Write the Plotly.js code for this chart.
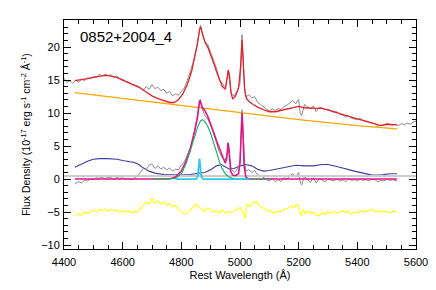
<!DOCTYPE html>
<html lang="en">
<head>
    <meta charset="UTF-8">
    <title>0852+2004_4 spectral fit</title>
    <script src='https://cdn.plot.ly/plotly-3.0.0.min.js'></script>
    <style>
        body { margin: 0; background: #fff; }
        #plot { width: 436px; height: 290px; }
    </style>
</head>
<body>
    <div id="plot"></div>

    <script>
        // observed spectrum (top grey)
        const dataWave = [4400,4410,4420,4430,4440,4450,4460,4470,4480,4490,4500,4510,4520,4530,4540,4550,4560,4570,4580,4590,
            4600,4610,4620,4630,4640,4650,4660,4670,4680,4690,4700,4710,4720,4730,4740,4750,4760,4770,4780,4790,
            4800,4810,4820,4830,4840,4850,4860,4865,4870,4880,4890,4900,4910,4920,4930,4940,4950,4960,4970,4980,
            4990,5000,5007,5015,5020,5030,5040,5050,5060,5070,5080,5090,5100,5110,5120,5130,5140,5150,5160,5170,
            5180,5190,5200,5205,5210,5220,5230,5240,5250,5260,5270,5280,5290,5300,5310,5320,5330,5340,5350,5360,
            5370,5380,5390,5400,5410,5420,5430,5440,5450,5460,5470,5480,5490,5500,5510,5520,5530,5540,5550,5560,
            5570,5580,5590,5600];
        const dataFlux = [15.3,14.6,14.9,14.5,15.0,14.7,15.1,14.9,15.3,15.2,15.5,15.4,15.9,15.6,15.9,15.7,15.8,15.4,15.6,15.2,
            15.1,14.8,14.7,14.4,14.3,14.1,13.9,13.4,14.0,13.6,14.3,13.7,13.9,13.4,13.6,13.0,13.3,12.6,12.9,12.7,
            13.3,13.8,14.9,16.2,17.6,19.5,22.0,23.3,22.4,20.9,20.4,19.1,17.9,16.8,15.0,14.3,13.8,16.3,13.0,12.6,
            13.3,14.5,21.9,14.0,12.4,12.8,12.3,12.5,11.6,11.3,10.9,10.6,10.3,10.6,10.4,10.7,10.5,11.0,11.2,11.6,
            11.9,11.4,12.1,10.0,9.6,11.3,11.0,10.6,11.1,10.2,10.9,10.8,10.5,10.6,10.3,10.1,10.2,9.8,9.7,9.4,
            9.6,9.2,9.1,9.0,9.2,8.8,8.7,8.6,8.5,8.4,8.0,8.2,8.1,8.4,8.3,8.2,8.3,8.1,8.4,8.2,
            8.5,8.3,8.6,8.8];

        // total model (red)
        const modelWave = [4437,4460,4480,4500,4520,4540,4560,4580,4600,4620,4640,4660,4680,4700,4720,4740,4760,4775,4790,4805,
            4820,4835,4845,4855,4862,4866,4872,4880,4890,4900,4910,4920,4930,4940,4950,4956,4960,4964,4969,4975,
            4985,4995,5002,5007,5011,5016,5022,5030,5045,5060,5080,5100,5120,5140,5160,5180,5200,5220,5240,5260,
            5280,5300,5320,5340,5360,5380,5400,5420,5440,5460,5480,5500,5520,5535];
        const modelFlux = [14.9,15.0,15.2,15.4,15.6,15.7,15.6,15.4,15.0,14.6,14.3,13.8,13.2,12.6,12.2,11.9,11.6,11.6,12.0,12.9,
            14.3,16.3,18.2,20.5,22.6,23.1,22.0,20.8,20.0,18.9,17.6,16.3,15.1,14.0,13.6,15.0,16.5,15.8,13.2,12.1,
            12.6,13.8,17.0,21.1,17.8,13.5,12.2,11.8,11.3,10.9,10.5,10.2,10.2,10.4,10.7,10.9,11.0,10.8,10.7,10.7,
            10.7,10.5,10.2,9.9,9.6,9.3,9.1,8.9,8.6,8.3,8.1,8.3,8.3,8.2];

        // power-law continuum (orange)
        const contWave = [4437,4600,4800,5000,5200,5400,5535];
        const contFlux = [13.1,12.2,11.1,10.0,9.0,8.1,7.6];

        // Fe II template (blue)
        const feWave = [4437,4460,4480,4500,4520,4550,4580,4600,4620,4640,4655,4670,4690,4710,4740,4770,4800,4830,4850,4880,
            4900,4920,4935,4950,4965,4980,5000,5020,5040,5060,5080,5100,5130,5160,5190,5220,5250,5280,5300,5330,
            5360,5390,5420,5450,5480,5510,5535];
        const feFlux = [1.8,2.3,2.7,3.0,3.1,3.1,3.0,2.8,2.6,2.5,2.2,1.7,1.2,0.9,0.7,0.6,0.6,0.7,0.8,1.0,
            1.4,2.0,2.2,1.8,1.5,1.6,2.0,2.2,2.0,1.5,1.2,1.3,1.6,1.9,2.1,2.0,2.0,2.2,2.2,1.9,
            1.5,1.2,0.9,0.6,0.6,0.8,0.8];

        // continuum-subtracted spectrum (lower grey)
        const lineWave = [4437,4450,4460,4470,4480,4490,4500,4510,4520,4530,4540,4550,4560,4570,4580,4590,4600,4610,4620,4630,
            4640,4650,4660,4670,4680,4690,4700,4710,4720,4730,4740,4750,4760,4770,4780,4790,4800,4810,4820,4830,
            4840,4850,4860,4865,4870,4880,4890,4900,4910,4920,4930,4940,4950,4960,4970,4980,4990,5000,5007,5015,
            5020,5030,5040,5050,5060,5070,5080,5090,5100,5110,5120,5130,5140,5150,5160,5170,5180,5190,5200,5205,
            5210,5220,5230,5240,5250,5260,5270,5280,5290,5300,5310,5320,5330,5340,5350,5360,5370,5380,5390,5400,
            5410,5420,5430,5440,5450,5460,5470,5480,5490,5500,5510,5520,5535];
        const lineFlux = [-0.7,-0.4,-0.6,-0.2,-0.3,0.0,-0.1,0.2,0.1,0.3,0.0,0.3,0.2,0.0,0.3,0.1,0.2,0.0,0.1,-0.1,
            0.2,0.4,1.0,1.6,1.4,2.1,2.3,1.6,2.0,1.5,1.8,1.4,1.7,1.2,1.5,1.4,2.1,2.6,3.6,4.6,
            6.1,8.3,10.6,12.1,10.8,9.6,9.1,8.2,6.9,5.5,4.0,3.2,2.9,4.5,1.5,1.0,1.4,2.4,10.5,3.0,
            1.2,1.4,1.0,1.3,0.6,0.5,0.2,0.0,-0.3,0.1,-0.4,-0.1,-0.4,0.2,0.0,0.5,0.8,0.3,1.0,-0.4,
            -0.9,0.4,0.0,-0.5,0.2,-0.6,0.1,-0.1,-0.4,0.0,-0.2,-0.3,0.0,-0.3,-0.1,-0.4,0.0,-0.2,-0.1,-0.3,
            0.0,-0.2,-0.1,-0.3,0.0,-0.1,-0.4,-0.2,-0.3,0.0,-0.2,-0.1,-0.3];

        // emission line model (magenta)
        const emisWave = [4437,4760,4780,4800,4815,4830,4845,4855,4862,4866,4872,4880,4890,4900,4910,4920,4930,4940,4950,4955,
            4959,4963,4968,4975,4985,4995,5000,5004,5007,5010,5014,5020,5030,5535];
        const emisFlux = [0,0,0.3,1.2,2.6,4.5,7.2,9.3,11.9,11.6,10.8,10.4,9.5,8.4,7.1,5.8,4.5,3.5,2.4,3.2,
            5.5,4.4,1.2,0.6,0.5,0.8,2.5,7.0,10.0,7.2,2.0,0.3,0,0];

        // broad H-beta (green)
        const broadWave = [4700,4780,4800,4815,4830,4845,4855,4865,4872,4880,4890,4900,4910,4920,4930,4940,4950,4960,4975,4990,5100];
        const broadFlux = [0,0.1,0.8,2.2,4.2,6.5,7.8,8.8,9.0,8.7,8.0,6.9,5.6,4.1,2.6,1.5,0.8,0.4,0.1,0,0];

        // narrow H-beta (cyan)
        const narrowWave = [4780,4850,4856,4859,4862,4865,4868,4874,5030];
        const narrowFlux = [0,0,0.4,1.8,3.1,1.8,0.4,0,0];

        // residual, offset by -5 (yellow)
        const residWave = [4437,4450,4460,4470,4480,4490,4500,4510,4520,4530,4540,4550,4560,4570,4580,4590,4600,4610,4620,4630,
            4640,4650,4660,4670,4680,4690,4700,4710,4720,4730,4740,4750,4760,4770,4780,4790,4800,4810,4820,4830,
            4840,4850,4860,4870,4880,4890,4900,4910,4920,4930,4940,4950,4960,4970,4980,4990,5000,5010,5017,5025,
            5035,5045,5055,5065,5075,5085,5095,5105,5115,5125,5135,5145,5155,5165,5175,5185,5195,5200,5208,5215,
            5222,5230,5240,5250,5260,5268,5280,5290,5300,5310,5320,5330,5340,5350,5360,5370,5380,5390,5400,5410,
            5420,5430,5440,5450,5460,5470,5480,5490,5500,5510,5520,5535];
        const residFlux = [-5.6,-5.3,-5.5,-5.0,-5.2,-4.9,-4.7,-5.0,-4.6,-4.8,-4.5,-4.9,-4.6,-4.8,-4.7,-5.0,-4.8,-5.0,-4.8,-5.1,
            -4.9,-5.0,-4.5,-4.0,-3.5,-3.8,-2.9,-3.7,-3.3,-3.8,-3.5,-3.9,-3.7,-4.2,-4.0,-4.6,-4.9,-5.3,-5.2,-4.7,
            -4.2,-3.8,-4.3,-4.6,-4.8,-4.4,-4.6,-5.0,-4.8,-5.1,-4.7,-5.2,-4.9,-5.1,-4.8,-4.6,-4.3,-5.0,-5.9,-3.8,
            -4.2,-3.6,-3.4,-4.0,-4.3,-4.5,-4.8,-4.9,-5.1,-4.9,-5.0,-4.7,-4.6,-4.4,-4.1,-4.3,-3.8,-4.2,-5.6,-4.6,
            -5.3,-4.8,-5.2,-5.0,-5.4,-5.6,-5.1,-5.3,-5.0,-5.2,-4.9,-5.1,-5.0,-4.8,-5.1,-4.9,-5.3,-5.0,-5.1,-4.8,
            -5.0,-4.9,-4.7,-4.6,-4.9,-5.0,-4.8,-5.0,-4.9,-5.1,-4.9,-5.0];

        // light grey zero reference
        const zeroWave = [4400, 5600];
        const zeroFlux = [0.45, 0.45];

        function line(x, y, color, width) {
            return {x: x, y: y, type: 'scatter', mode: 'lines', hoverinfo: 'skip',
                    line: {color: color, width: width}};
        }

        const traces = [
            line(dataWave, dataFlux, '#8c8c8c', 1),
            line(contWave, contFlux, '#ffa500', 1.2),
            line(modelWave, modelFlux, '#e8202a', 1.3),
            line(feWave, feFlux, '#3c3ca0', 1.1),
            line(lineWave, lineFlux, '#8c8c8c', 1),
            line(zeroWave, zeroFlux, '#cccccc', 2),
            line(emisWave, emisFlux, '#e0158a', 1.6),
            line(broadWave, broadFlux, '#18b060', 1.1),
            line(narrowWave, narrowFlux, '#30c8e8', 1.8),
            line(residWave, residFlux, '#ffff00', 1.1)
        ];

        const axisFont = {family: 'Liberation Sans, Arial, sans-serif', size: 11, color: '#000'};

        const layout = {
            width: 436, height: 290,
            margin: {l: 64, r: 20, t: 20, b: 41},
            paper_bgcolor: '#fff', plot_bgcolor: '#fff',
            showlegend: false,
            font: axisFont,
            xaxis: {
                range: [4400, 5600], dtick: 200, tick0: 4400,
                ticks: 'inside', ticklen: 7, tickwidth: 1, tickcolor: '#000',
                minor: {dtick: 50, ticks: 'inside', ticklen: 4, tickcolor: '#000'},
                showline: true, linecolor: '#000', linewidth: 1, mirror: 'allticks',
                showgrid: false, zeroline: false,
                tickfont: axisFont, ticklabelstandoff: 3,
                title: {text: 'Rest Wavelength (Å)', font: axisFont, standoff: 4}
            },
            yaxis: {
                range: [-10.6, 24.1], dtick: 5, tick0: 0,
                ticks: 'inside', ticklen: 7, tickwidth: 1, tickcolor: '#000',
                minor: {dtick: 1, ticks: 'inside', ticklen: 4, tickcolor: '#000'},
                showline: true, linecolor: '#000', linewidth: 1, mirror: 'allticks',
                showgrid: false, zeroline: false,
                tickfont: axisFont, ticklabelstandoff: 1,
                title: {text: 'Flux Density (10<sup>-17</sup> erg s<sup>-1</sup> cm<sup>-2</sup> Å<sup>-1</sup>)',
                        font: {family: 'Liberation Sans, Arial, sans-serif', size: 10.5, color: '#000'}, standoff: 8}
            },
            annotations: [{
                text: '0852+2004_4', xref: 'paper', yref: 'paper', x: 0.04, y: 0.93,
                xanchor: 'left', yanchor: 'middle', showarrow: false,
                font: {family: 'Liberation Sans, Arial, sans-serif', size: 15, color: '#000'}
            }]
        };

        Plotly.newPlot('plot', traces, layout, {staticPlot: true});
    </script>
</body>
</html>
